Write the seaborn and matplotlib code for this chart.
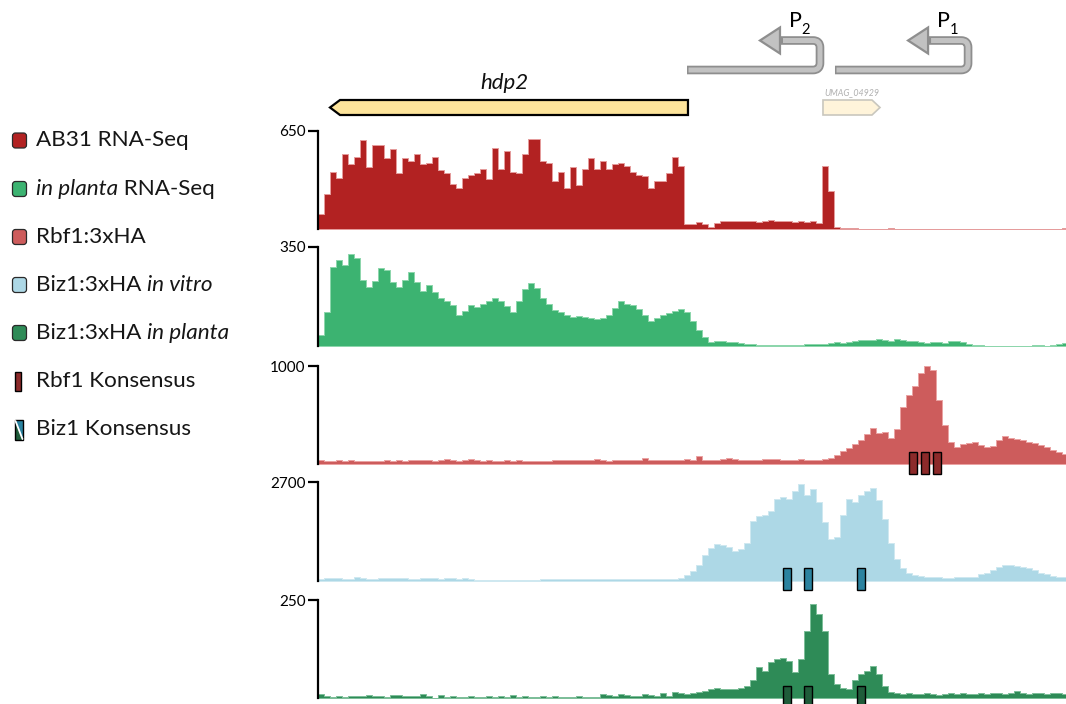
import numpy as np
import pandas as pd
import matplotlib
matplotlib.use("Agg")
import matplotlib.pyplot as plt
import seaborn as sns
from matplotlib.patches import Polygon, Rectangle, FancyBboxPatch, PathPatch
from matplotlib.path import Path
import matplotlib.transforms as mtransforms

# ---------------------------------------------------------------- data
BIN_BP = 50            # coverage bin width (bp)
REGION_END = 6233      # visible window end (bp)

ab31_rnaseq = [
    100, 230, 380, 340, 500, 430, 480, 590, 410, 560,
    560, 470, 530, 370, 470, 450, 500, 430, 440, 480,
    390, 370, 300, 270, 340, 360, 370, 400, 330, 540,
    400, 520, 380, 370, 500, 600, 600, 450, 440, 320,
    380, 270, 410, 290, 400, 470, 400, 450, 400, 430,
    440, 420, 380, 355, 350, 270, 320, 320, 370, 480,
    420, 30, 30, 45, 35, 15, 40, 50, 55, 50,
    55, 55, 50, 45, 55, 60, 55, 50, 50, 45,
    50, 45, 50, 40, 420, 250, 15, 8, 8, 8,
    0, 0, 0, 0, 0, 8, 0, 0, 0, 0,
    0, 0, 0, 0, 0, 0, 0, 0, 0, 0,
    0, 0, 0, 0, 0, 0, 0, 0, 0, 0,
    0, 0, 0, 0, 8,
]

in_planta_rnaseq = [
    40, 120, 280, 305, 285, 325, 310, 235, 210, 230,
    275, 270, 225, 210, 235, 262, 225, 195, 215, 190,
    170, 160, 145, 110, 125, 145, 138, 148, 160, 168,
    160, 140, 120, 160, 200, 222, 205, 170, 150, 128,
    120, 108, 102, 105, 102, 100, 97, 100, 110, 135,
    160, 150, 145, 130, 110, 88, 100, 110, 115, 122,
    132, 120, 90, 55, 32, 15, 18, 16, 14, 14,
    10, 8, 6, 5, 4, 4, 4, 3, 4, 3,
    3, 6, 6, 6, 8, 12, 13, 12, 14, 16,
    20, 22, 20, 25, 22, 18, 25, 22, 18, 16,
    14, 12, 14, 15, 12, 18, 16, 14, 8, 5,
    5, 0, 0, 0, 0, 0, 0, 0, 0, 5,
    5, 0, 3, 8, 10,
]

rbf1_chip = [
    45, 30, 35, 40, 30, 38, 32, 35, 30, 35,
    30, 36, 33, 40, 35, 42, 38, 45, 40, 35,
    42, 50, 38, 35, 40, 48, 42, 35, 38, 35,
    30, 40, 35, 38, 32, 35, 30, 33, 35, 40,
    38, 45, 40, 42, 38, 45, 50, 40, 35, 38,
    40, 45, 42, 40, 60, 45, 40, 38, 42, 45,
    40, 55, 45, 85, 38, 45, 40, 55, 60, 50,
    45, 40, 45, 42, 48, 50, 55, 45, 40, 45,
    50, 45, 40, 42, 55, 60, 90, 130, 160, 200,
    240, 310, 370, 320, 330, 270, 360, 580, 700, 800,
    930, 1000, 960, 650, 400, 220, 170, 200, 210, 220,
    190, 175, 185, 240, 290, 270, 260, 250, 225, 210,
    190, 170, 140, 120, 100,
]

biz1_in_vitro = [
    60, 90, 85, 70, 50, 60, 100, 70, 50, 60,
    80, 75, 80, 70, 75, 60, 55, 80, 75, 70,
    60, 80, 75, 60, 80, 50, 35, 35, 35, 35,
    35, 35, 35, 35, 35, 35, 35, 60, 60, 60,
    60, 60, 60, 60, 60, 60, 60, 60, 60, 60,
    60, 60, 60, 60, 60, 60, 60, 60, 60, 60,
    90, 160, 270, 450, 700, 900, 1000, 980, 930, 820,
    880, 1050, 1650, 1780, 1800, 1900, 2250, 2300, 2250, 2450,
    2650, 2350, 2500, 2150, 1600, 1150, 1200, 1800, 2250, 2150,
    2350, 2450, 2550, 2200, 1700, 1050, 600, 350, 230, 170,
    130, 100, 100, 100, 90, 90, 100, 100, 100, 120,
    180, 230, 300, 370, 430, 450, 400, 380, 350, 300,
    220, 180, 150, 120, 100,
]

biz1_in_planta = [
    10, 5, 3, 4, 3, 6, 4, 5, 8, 4,
    6, 3, 8, 8, 5, 4, 6, 10, 4, 0,
    8, 3, 4, 3, 3, 6, 3, 3, 4, 3,
    4, 3, 8, 3, 4, 3, 3, 5, 3, 4,
    3, 3, 3, 6, 3, 3, 3, 10, 8, 6,
    10, 8, 6, 5, 10, 8, 5, 12, 6, 15,
    12, 10, 14, 16, 18, 22, 26, 22, 24, 22,
    26, 30, 45, 78, 70, 92, 100, 102, 95, 66,
    100, 170, 240, 215, 170, 60, 35, 25, 22, 45,
    60, 70, 82, 60, 30, 15, 12, 10, 12, 10,
    10, 12, 10, 8, 10, 12, 10, 12, 10, 10,
    12, 10, 14, 12, 10, 12, 18, 12, 10, 12,
    14, 10, 12, 12, 10,
]

track_labels = ["AB31 RNA-Seq", "in planta RNA-Seq", "Rbf1:3xHA",
                "Biz1:3xHA in vitro", "Biz1:3xHA in planta"]
track_max = [650, 350, 1000, 2700, 250]

# gene models (bp): start, end, strand
hdp2_gene = (100, 3083, "-")
umag_04929_gene = (4208, 4683, "+")
# promoters: TSS and upstream extent of the drawn line (bp)
promoter_tss = {"2": 4183, "1": 5417}
promoter_tail = {"2": 3075, "1": 4308}

# consensus motif centres (bp)
rbf1_motifs = [4958, 5058, 5158]
biz1_motifs = [3912, 4083, 4521]

# ---------------------------------------------------------------- style
sns.set_theme(style="white")
plt.rcParams["font.family"] = ["Lato", "DejaVu Sans"]

W, H = 1066, 704
fig = plt.figure(figsize=(W / 100, H / 100), dpi=100)
fig.patch.set_facecolor("white")


def px_axes(left, top, right, bottom):
    return fig.add_axes([left / W, 1 - bottom / H, (right - left) / W, (bottom - top) / H])


fills = ["#B22222", "#3CB371", "#CD5C5C", "#ADD8E6", "#2E8B57"]
edges = ["#E59C9C", "#8DD6AC", "#EBA3A3", "#CFE8F0", "#7DBE99"]
rows = [(131, 229), (247, 346), (366, 464), (482, 581), (600, 698)]
series = [ab31_rnaseq, in_planta_rnaseq, rbf1_chip, biz1_in_vitro, biz1_in_planta]

n_bins = len(ab31_rnaseq)
track_axes = []
for vals, ymax, fc, ec, (top, bot) in zip(series, track_max, fills, edges, rows):
    ax = px_axes(318, top, W, bot)
    centres = np.arange(len(vals)) * BIN_BP + BIN_BP / 2
    df = pd.DataFrame({"pos": centres, "cov": np.asarray(vals, dtype=float)})
    sns.histplot(data=df, x="pos", weights="cov", binwidth=BIN_BP,
                 binrange=(0, n_bins * BIN_BP), element="step",
                 fill=True, color=fc, alpha=1, edgecolor=ec, linewidth=0.7, ax=ax)
    ax.set_xlim(0, REGION_END)
    ax.set_ylim(0, ymax)
    ax.set_xticks([])
    ax.set_yticks([ymax])
    ax.set_yticklabels([str(ymax)])
    ax.set_xlabel("")
    ax.set_ylabel("")
    for s in ("top", "right", "bottom"):
        ax.spines[s].set_visible(False)
    ax.spines["left"].set_linewidth(1.6)
    ax.spines["left"].set_color("black")
    ax.tick_params(axis="y", left=True, length=7, width=1.6, labelsize=11, pad=2,
                   colors="black")
    ax.patch.set_alpha(0)
    track_axes.append(ax)


def motif_boxes(ax, centres, color, y0, y1, width_bp=67):
    tr = mtransforms.blended_transform_factory(ax.transData, ax.transAxes)
    for c in centres:
        ax.add_patch(Rectangle((c - width_bp / 2, y0), width_bp, y1 - y0, transform=tr,
                               facecolor=color, edgecolor="black", linewidth=1.0,
                               clip_on=False, zorder=5))


motif_boxes(track_axes[2], rbf1_motifs, "#8C2A2A", -0.10, 0.12)
motif_boxes(track_axes[3], biz1_motifs, "#2B83A0", -0.09, 0.13)
motif_boxes(track_axes[4], biz1_motifs, "#1F5C3A", -0.10, 0.12)

# ---------------------------------------------------------------- annotation row
ann = px_axes(318, 0, W, 125)
ann.set_xlim(0, REGION_END)
ann.set_ylim(125, 0)
ann.axis("off")

BP_PER_PX = BIN_BP / 6.0

g0, g1, _ = hdp2_gene
head = 10 * BP_PER_PX
ann.add_patch(Polygon([(g1, 100), (g1, 115), (g0 + head, 115), (g0, 107.5), (g0 + head, 100)],
                      closed=True, facecolor="#FDE49B", edgecolor="black", linewidth=1.6))
ann.text((g0 + g1) / 2 - 5 * BP_PER_PX, 83, "hdp2", style="italic", fontsize=16,
         ha="center", va="center", color="#111111")

u0, u1, _ = umag_04929_gene
uh = 8 * BP_PER_PX
ann.add_patch(Polygon([(u0, 100), (u1 - uh, 100), (u1, 107.5), (u1 - uh, 115), (u0, 115)],
                      closed=True, facecolor="#FFF4DA", edgecolor="#C9C7BE", linewidth=1.2))
ann.text((u0 + u1) / 2, 92.5, "UMAG_04929", style="italic", fontsize=6.4,
         ha="center", va="center", color="#B0B0B0")

dark_grey, light_grey = "#8E8E8E", "#C2C2C2"
for key in ("2", "1"):
    tss, tail = promoter_tss[key], promoter_tail[key]
    r = 7 * BP_PER_PX
    ry = 7
    base = tss - 40 * BP_PER_PX
    tip = tss - 60 * BP_PER_PX
    yb, yt = 70, 40.5

    def shaft(x_start, x_end):
        verts = [(x_start, yb), (tss - r, yb), (tss, yb), (tss, yb - ry), (tss, yt + ry),
                 (tss, yt), (tss - r, yt), (x_end, yt)]
        codes = [Path.MOVETO, Path.LINETO, Path.CURVE3, Path.CURVE3, Path.LINETO,
                 Path.CURVE3, Path.CURVE3, Path.LINETO]
        return Path(verts, codes)

    ann.add_patch(PathPatch(shaft(tail, base), facecolor="none", edgecolor=dark_grey,
                            linewidth=6.2, capstyle="butt", joinstyle="round", zorder=2))
    ann.add_patch(Polygon([(base, 27.5), (tip, 40.5), (base, 53.5)], closed=True,
                          facecolor=light_grey, edgecolor=dark_grey, linewidth=1.6,
                          joinstyle="miter", zorder=3))
    ann.add_patch(PathPatch(shaft(tail + 1.5 * BP_PER_PX, base + 3 * BP_PER_PX),
                            facecolor="none", edgecolor=light_grey, linewidth=3.6,
                            capstyle="butt", joinstyle="round", zorder=4))
    ann.text(tss - 25 * BP_PER_PX, 21, "P", fontsize=15.5, ha="center", va="center",
             color="black")
    ann.text(tss - 14 * BP_PER_PX, 30, key, fontsize=10.5, ha="center", va="center",
             color="black")

# ---------------------------------------------------------------- legend
leg = px_axes(0, 120, 260, 450)
leg.set_xlim(0, 260)
leg.set_ylim(450, 120)
leg.axis("off")

renderer = fig.canvas.get_renderer()


def rich_text(ax, x, y, parts, **kw):
    for txt, style in parts:
        t = ax.text(x, y, txt, style=style, ha="left", va="center", **kw)
        bb = t.get_window_extent(renderer=renderer)
        x0 = ax.transData.inverted().transform((bb.x0, bb.y0))[0]
        x1 = ax.transData.inverted().transform((bb.x1, bb.y0))[0]
        x += x1 - x0


legend_rows = [
    [("AB31 RNA-Seq", "normal")],
    [("in planta", "italic"), (" RNA-Seq", "normal")],
    [("Rbf1:3xHA", "normal")],
    [("Biz1:3xHA ", "normal"), ("in vitro", "italic")],
    [("Biz1:3xHA ", "normal"), ("in planta", "italic")],
    [("Rbf1 Konsensus", "normal")],
    [("Biz1 Konsensus", "normal")],
]
row_y = [140.5, 189, 237, 285, 333, 381, 429]

for i, (parts, y) in enumerate(zip(legend_rows, row_y)):
    if i < 5:
        leg.add_patch(FancyBboxPatch((12.5, y - 7.5), 14, 15,
                                     boxstyle="round,pad=0,rounding_size=3",
                                     facecolor=fills[i], edgecolor="#2B2B2B", linewidth=0.9))
    rich_text(leg, 36, y, parts, fontsize=16.2, color="#161616")

# Rbf1 consensus symbol
leg.add_patch(Rectangle((15, 372), 6, 19, facecolor="#8C2A2A", edgecolor="black", linewidth=1.0))
# Biz1 consensus symbol (split: in planta / in vitro)
leg.add_patch(Polygon([(15, 420), (15, 440), (23, 440)], closed=True,
                      facecolor="#1F5C3A", edgecolor="none"))
leg.add_patch(Polygon([(15, 420), (23, 420), (23, 440)], closed=True,
                      facecolor="#2B83A0", edgecolor="none"))
leg.plot([15.5, 22.5], [421, 439], color="white", linewidth=1.3)
leg.add_patch(Rectangle((15, 420), 8, 20, facecolor="none", edgecolor="black", linewidth=1.0))

fig.savefig("out.png", dpi=100, facecolor="white")
